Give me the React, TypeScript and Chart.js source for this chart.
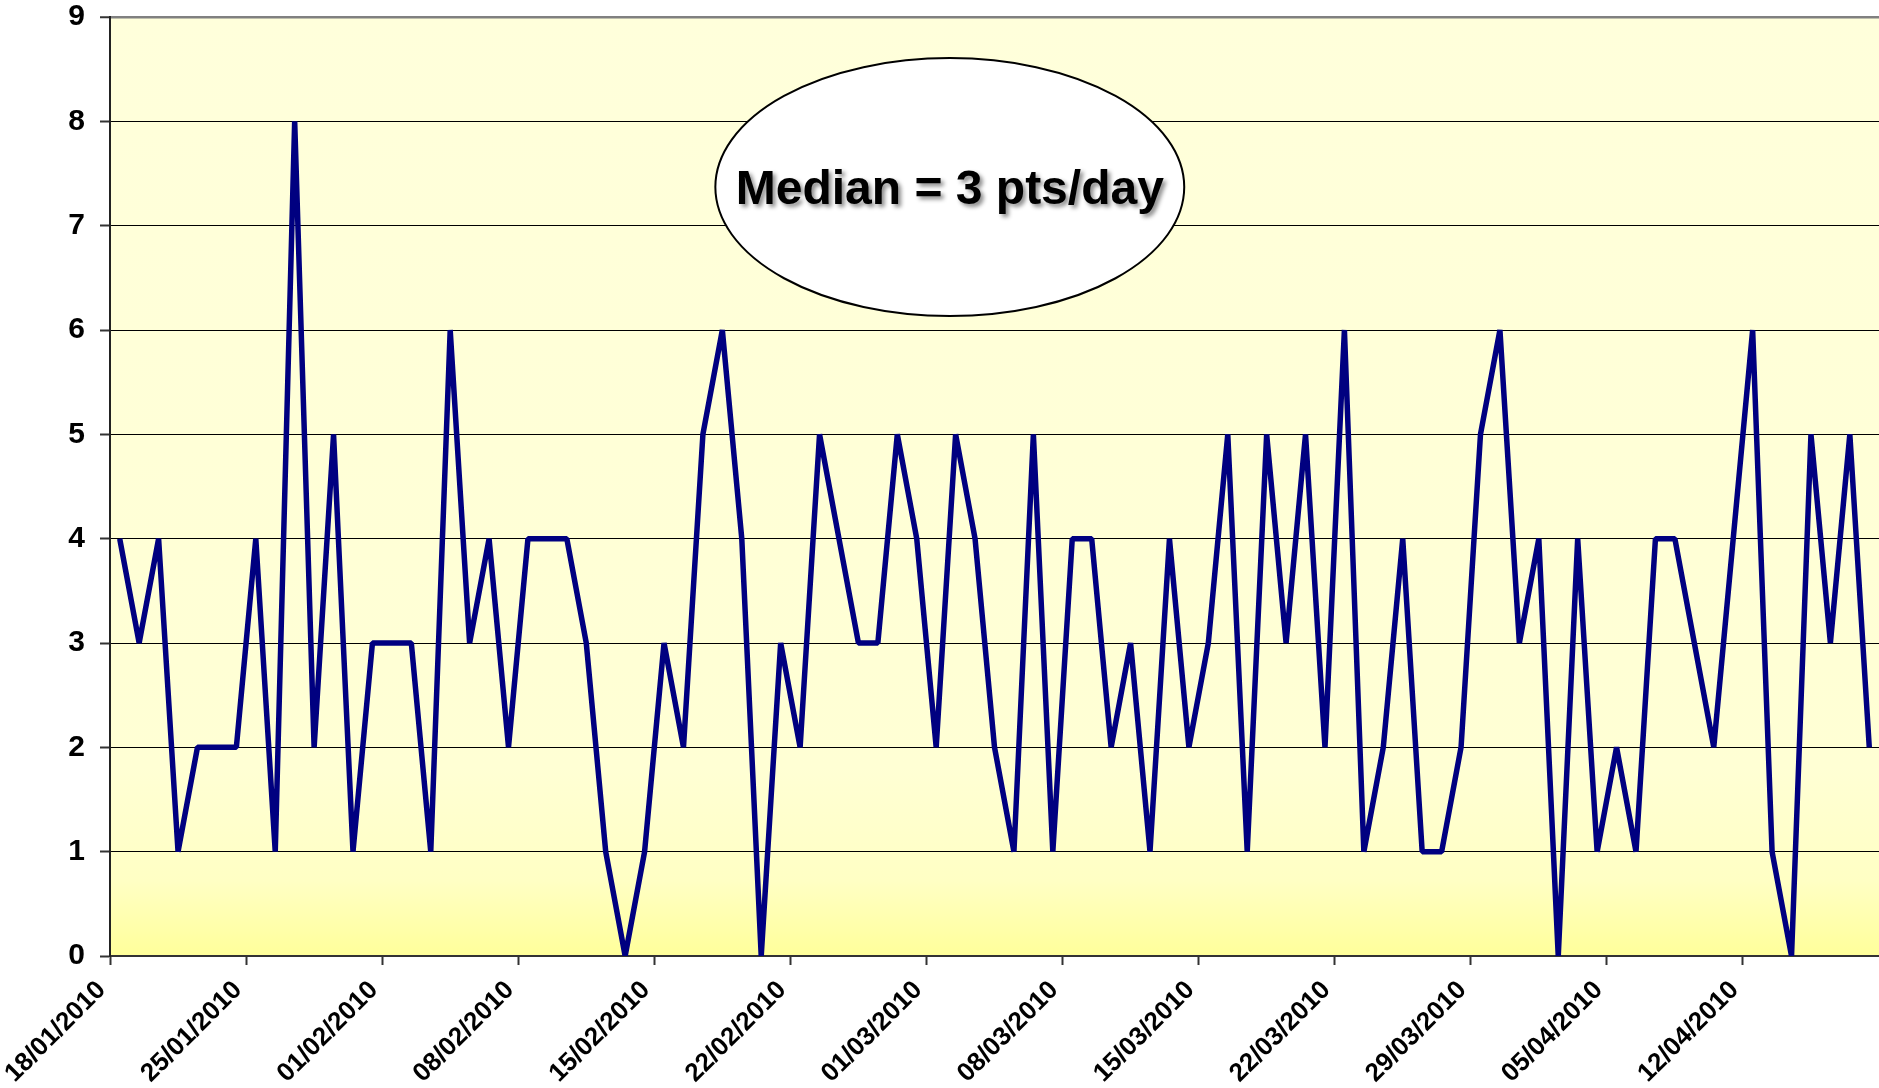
import React, { useEffect, useRef } from "react";
import { Chart, registerables } from "chart.js";

Chart.register(...registerables);

// Daily categories 18/01/2010 .. 18/04/2010
const firstDay = { year: 2010, month: 1, day: 18 };
const dayCount = 91;

// Points scored per day
const pointsPerDay: number[] = [
  4, 3, 4, 1, 2, 2, 2,
  4, 1, 8, 2, 5, 1, 3,
  3, 3, 1, 6, 3, 4, 2,
  4, 4, 4, 3, 1, 0, 1,
  3, 2, 5, 6, 4, 0, 3,
  2, 5, 4, 3, 3, 5, 4,
  2, 5, 4, 2, 1, 5, 1,
  4, 4, 2, 3, 1, 4, 2,
  3, 5, 1, 5, 3, 5, 2,
  6, 1, 2, 4, 1, 1, 2,
  5, 6, 3, 4, 0, 4, 1,
  2, 1, 4, 4, 3, 2, 4,
  6, 1, 0, 5, 3, 5, 2,
];

// Weekly tick labels shown on the x axis
const weeklyTickLabels: string[] = [
  "18/01/2010", "25/01/2010", "01/02/2010", "08/02/2010", "15/02/2010",
  "22/02/2010", "01/03/2010", "08/03/2010", "15/03/2010", "22/03/2010",
  "29/03/2010", "05/04/2010", "12/04/2010",
];

const yMin = 0;
const yMax = 9;

const annotationText = "Median = 3 pts/day";

function pad2(n: number) {
  return n < 10 ? "0" + n : String(n);
}

function buildDayLabels(): string[] {
  const out: string[] = [];
  const d = new Date(Date.UTC(firstDay.year, firstDay.month - 1, firstDay.day));
  for (let i = 0; i < dayCount; i++) {
    out.push(pad2(d.getUTCDate()) + "/" + pad2(d.getUTCMonth() + 1) + "/" + d.getUTCFullYear());
    d.setUTCDate(d.getUTCDate() + 1);
  }
  return out;
}

const dayLabels = buildDayLabels();
const FONT = "Arial, 'Liberation Sans', Helvetica, sans-serif";

const backgroundPlugin = {
  id: "plotBackground",
  beforeDraw(chart: any) {
    const { ctx, chartArea: a } = chart;
    if (!a) return;
    const g = ctx.createLinearGradient(0, a.top, 0, a.bottom);
    g.addColorStop(0, "#FFFFDB");
    g.addColorStop(0.8, "#FFFFD4");
    g.addColorStop(0.92, "#FFFFC4");
    g.addColorStop(1, "#FFFF9A");
    ctx.save();
    ctx.fillStyle = g;
    ctx.fillRect(a.left, a.top, a.right - a.left, a.bottom - a.top);
    ctx.restore();
  },
};

const ellipsePlugin = {
  id: "medianEllipse",
  afterDatasetsDraw(chart: any) {
    const { ctx } = chart;
    const xs = chart.scales.x;
    const ys = chart.scales.y;
    const cx = xs.getPixelForValue(42.7);
    const cy = ys.getPixelForValue(7.37);
    const rx = Math.abs(xs.getPixelForValue(42.7 + 12.06) - cx);
    const ry = Math.abs(ys.getPixelForValue(7.37 + 1.236) - cy);
    ctx.save();
    ctx.beginPath();
    ctx.ellipse(cx, cy, rx, ry, 0, 0, Math.PI * 2);
    ctx.fillStyle = "#FFFFFF";
    ctx.fill();
    ctx.lineWidth = 2;
    ctx.strokeStyle = "#000000";
    ctx.stroke();
    ctx.font = "bold 48px " + FONT;
    ctx.textAlign = "center";
    ctx.textBaseline = "alphabetic";
    ctx.shadowColor = "rgba(0,0,0,0.45)";
    ctx.shadowBlur = 4;
    ctx.shadowOffsetX = 3;
    ctx.shadowOffsetY = 3;
    ctx.fillStyle = "#000000";
    ctx.fillText(annotationText, cx, cy + 17);
    ctx.restore();
  },
};

export default function App() {
  const canvasRef = useRef<HTMLCanvasElement | null>(null);

  useEffect(() => {
    if (!canvasRef.current) return;
    const chart = new Chart(canvasRef.current, {
      type: "line",
      data: {
        labels: dayLabels,
        datasets: [
          {
            data: pointsPerDay,
            borderColor: "#000080",
            borderWidth: 5.5,
            pointRadius: 0,
            pointHoverRadius: 0,
            tension: 0,
            fill: false,
            borderJoinStyle: "bevel",
          },
        ],
      },
      options: {
        animation: false,
        responsive: false,
        devicePixelRatio: 1,
        layout: { padding: { top: 17, right: 0, left: 0, bottom: 0 } },
        plugins: {
          legend: { display: false },
          tooltip: { enabled: false },
          title: { display: false },
        },
        scales: {
          x: {
            type: "category",
            offset: true,
            afterFit(scale: any) {
              scale.height = 132;
              scale.paddingLeft = 0;
              scale.paddingRight = 0;
              scale.paddingTop = 0;
              scale.paddingBottom = 0;
            },
            grid: {
              offset: true,
              drawOnChartArea: false,
              drawTicks: true,
              tickLength: 9,
              tickWidth: 2,
              tickColor: (ctx: any) =>
                ctx.index !== undefined && ctx.index % 7 === 0 ? "#333333" : "rgba(0,0,0,0)",
            },
            border: { display: true, color: "#333333", width: 2 },
            ticks: {
              autoSkip: false,
              maxRotation: 45,
              minRotation: 45,
              padding: 10,
              labelOffset: -18,
              color: "#000000",
              font: { family: FONT, size: 26, weight: "bold" },
              callback: (_v: any, i: number) =>
                weeklyTickLabels.indexOf(dayLabels[i]) >= 0 ? dayLabels[i] : "",
            },
          },
          y: {
            min: yMin,
            max: yMax,
            afterFit(scale: any) {
              scale.width = 110;
              scale.paddingTop = 0;
              scale.paddingBottom = 0;
              scale.paddingLeft = 0;
              scale.paddingRight = 0;
            },
            grid: {
              drawOnChartArea: true,
              drawTicks: true,
              tickLength: 10,
              tickWidth: 2,
              tickColor: "#333333",
              color: (ctx: any) => (ctx.tick && ctx.tick.value === yMax ? "#808080" : "#000000"),
              lineWidth: (ctx: any) => (ctx.tick && ctx.tick.value === yMax ? 2.5 : 1),
            },
            border: { display: true, color: "#222222", width: 2 },
            ticks: {
              stepSize: 1,
              padding: 15,
              color: "#000000",
              font: { family: FONT, size: 30, weight: "bold" },
            },
          },
        },
      },
      plugins: [backgroundPlugin, ellipsePlugin],
    } as any);
    return () => chart.destroy();
  }, []);

  return (
    <div style={{ position: "fixed", left: 0, top: 0, width: 1879, height: 1088, background: "#FFFFFF" }}>
      <canvas ref={canvasRef} width={1879} height={1088} style={{ width: 1879, height: 1088, display: "block" }} />
    </div>
  );
}
